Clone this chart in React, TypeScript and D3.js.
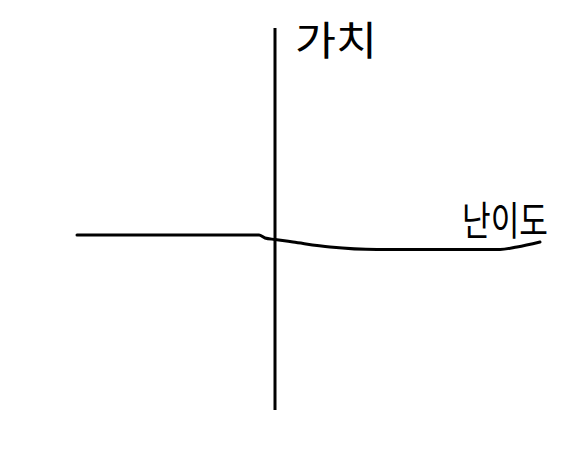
import React, { useEffect, useRef } from 'react';
import * as d3 from 'd3';

// difficulty (x) vs value (y)
const difficulty = [-9.9, -0.8, -0.5, 0, 0.9, 2.75, 5.1, 11.25, 12.1, 13.25];
const value = [0, 0, -0.3, -0.45, -0.7, -1.2, -1.45, -1.45, -1.2, -0.7];
const valueAxisExtent = [-17.5, 20.7];
const labels = { y: '가치', x: '난이도' };

const App = () => {
  const svgRef = useRef(null);

  useEffect(() => {
    const width = 569;
    const height = 465;

    const svg = d3.select(svgRef.current);
    svg.selectAll('*').remove();
    svg.attr('width', width).attr('height', height);

    svg.append('rect')
      .attr('width', width)
      .attr('height', height)
      .attr('fill', '#fff');

    // scales
    const x = d3.scaleLinear().domain([-10, 14]).range([75, 555]);
    const y = d3.scaleLinear().domain([-20, 20]).range([435, 35]);

    // vertical value axis
    svg.append('line')
      .attr('x1', x(0))
      .attr('x2', x(0))
      .attr('y1', y(valueAxisExtent[1]))
      .attr('y2', y(valueAxisExtent[0]))
      .attr('stroke', '#000')
      .attr('stroke-width', 3);

    const data = difficulty.map((d, i) => ({ d, v: value[i] }));

    const line = d3.line()
      .x(p => x(p.d))
      .y(p => y(p.v))
      .curve(d3.curveMonotoneX);

    svg.append('path')
      .datum(data)
      .attr('fill', 'none')
      .attr('stroke', '#000')
      .attr('stroke-width', 3)
      .attr('stroke-linecap', 'round')
      .attr('d', line);

    // labels
    svg.append('text')
      .attr('x', 295)
      .attr('y', 55)
      .attr('font-family', '"Noto Sans CJK KR", sans-serif')
      .attr('font-size', 40)
      .attr('font-weight', 400)
      .attr('textLength', 82)
      .attr('lengthAdjust', 'spacingAndGlyphs')
      .text(labels.y);

    svg.append('text')
      .attr('x', 462)
      .attr('y', 235)
      .attr('font-family', '"Noto Sans CJK KR", sans-serif')
      .attr('font-size', 40)
      .attr('font-weight', 400)
      .attr('textLength', 86)
      .attr('lengthAdjust', 'spacingAndGlyphs')
      .text(labels.x);
  }, []);

  return <svg ref={svgRef} style={{ position: 'absolute', left: 0, top: 0 }}></svg>;
};

export default App;
